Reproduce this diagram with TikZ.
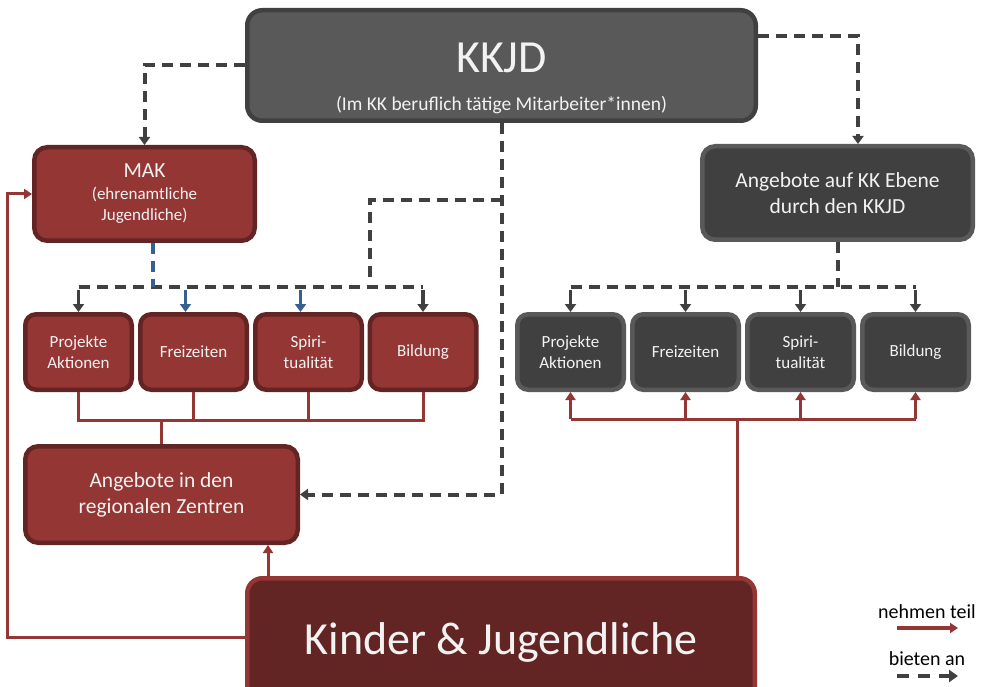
\documentclass[tikz,border=0pt]{standalone}
\usepackage{fontspec}
\setmainfont{Carlito}
\usetikzlibrary{arrows.meta}
\definecolor{gA}{HTML}{595959}
\definecolor{gB}{HTML}{404040}
\definecolor{rA}{HTML}{943634}
\definecolor{rB}{HTML}{632523}
\definecolor{bl}{HTML}{376092}
\definecolor{txt}{HTML}{F2F2F2}
\begin{document}
\begin{tikzpicture}[x=1pt,y=-1pt,
  box/.style={rectangle, rounded corners=13pt, line width=4.5pt, text=txt, align=center, inner sep=0pt},
  redbox/.style={box, fill=rA, draw=rB},
  darkbox/.style={box, fill=gB, draw=gA},
  smallbox/.style={minimum width=106.5pt, minimum height=75.5pt, font=\fontsize{17}{21}\selectfont, rounded corners=11pt},
  dsh/.style={draw=gB, line width=4pt, dash pattern=on 11pt off 7pt},
  dsharrow/.style={dsh, -{Triangle[width=11pt,length=8pt]}},
  garrow/.style={draw=gB, line width=3.5pt, -{Triangle[width=11pt,length=8pt]}},
  bdsh/.style={draw=bl, line width=4pt, dash pattern=on 11pt off 7pt},
  barrow/.style={draw=bl, line width=3.5pt, -{Triangle[width=11pt,length=8pt]}},
  redline/.style={draw=rA, line width=3pt},
  redarrow/.style={redline, -{Triangle[width=10pt,length=8pt]}},
  lbl/.style={font=\fontsize{20}{24}\selectfont, text=black, inner sep=0pt, anchor=base}
]
\useasboundingbox (0,0) rectangle (983,687);

% main boxes
\node[box, fill=gA, draw=gB, rounded corners=15pt, minimum width=508.5pt, minimum height=110.5pt] (kkjd) at (501.5,65.5) {};
\node[anchor=base, text=txt, inner sep=0pt, font=\fontsize{46}{46}\selectfont] (kkjdT) at (501.5,73) {KKJD};
\node[anchor=base, text=txt, inner sep=0pt, font=\fontsize{19.5}{24}\selectfont] (kkjdS) at (501.5,111) {(Im KK beruflich tätige Mitarbeiter*innen)};

\node[redbox, minimum width=220.5pt, minimum height=93.5pt, font=\fontsize{17}{21.5}\selectfont] (mak) at (144.5,194)
  {{\fontsize{21.5}{21.5}\selectfont MAK}\\(ehrenamtliche\\Jugendliche)};

\node[darkbox, minimum width=270.5pt, minimum height=93.5pt, font=\fontsize{21.5}{26}\selectfont] (akk) at (837.5,193)
  {Angebote auf KK Ebene\\durch den KKJD};

\node[redbox, minimum width=272.5pt, minimum height=96.5pt, font=\fontsize{21.5}{26}\selectfont] (reg) at (161.5,494.5)
  {Angebote in den\\regionalen Zentren};

\node[box, fill=rB, draw=rA, rounded corners=15pt, minimum width=507.5pt, minimum height=127.5pt, font=\fontsize{46}{46}\selectfont] (kin) at (501,642)
  {Kinder \& Jugendliche};

% left row
\node[redbox, smallbox] (lP) at (78.5,352) {Projekte\\Aktionen};
\node[redbox, smallbox] (lF) at (193.5,352) {Freizeiten};
\node[redbox, smallbox] (lS) at (308.5,352) {Spiri-\\tualität};
\node[redbox, smallbox] (lB) at (423,352) {Bildung};

% right row
\node[darkbox, smallbox] (rP) at (570.5,352) {Projekte\\Aktionen};
\node[darkbox, smallbox] (rF) at (685.5,352) {Freizeiten};
\node[darkbox, smallbox] (rS) at (800.5,352) {Spiri-\\tualität};
\node[darkbox, smallbox] (rB) at (915.5,352) {Bildung};

% dashed "bieten an" connectors
\coordinate (j1) at (501.5,200);
\coordinate (j2) at (370,287);
\draw[dsharrow] (kkjd.west) -| (mak.north);
\draw[dsharrow] ([yshift=29pt]kkjd.east) -| ([xshift=20.5pt]akk.north);
\draw[dsharrow] (kkjd.south) |- (reg.east);
\draw[dsh] (j1) -| (j2);
\draw[dsh] (lP.north |- j2) -- (lB.north |- j2);
\draw[garrow] ([yshift=-3pt]lP.north |- j2) -- (lP.north);
\draw[garrow] ([yshift=-3pt]lB.north |- j2) -- (lB.north);
\draw[bdsh] ([xshift=8.5pt]mak.south) -- ([xshift=8.5pt]mak.south |- j2);
\draw[barrow] ([xshift=-8pt,yshift=-3pt]lF.north |- j2) -- ([xshift=-8pt]lF.north);
\draw[barrow] ([xshift=-8pt,yshift=-3pt]lS.north |- j2) -- ([xshift=-8pt]lS.north);

\draw[dsh] (akk.south) -- (akk.south |- j2);
\draw[dsh] (rP.north |- j2) -- (rB.north |- j2);
\foreach \n in {rP,rF,rS,rB}{
  \draw[garrow] ([yshift=-3pt]\n.north |- j2) -- (\n.north);
}

% red "nehmen teil" connectors
\coordinate (lr) at (0,420);
\coordinate (rr) at (0,419);
\draw[redline] (lP.south) -- (lP.south |- lr) -- (lB.south |- lr) -- (lB.south);
\draw[redline] (lF.south) -- (lF.south |- lr);
\draw[redline] (lS.south) -- (lS.south |- lr);
\draw[redline] (reg.north) -- (reg.north |- lr);

\draw[redline] ([xshift=236pt]kin.north) -- ([xshift=236pt]kin.north |- rr);
\draw[redline] (rP.south |- rr) -- (rB.south |- rr);
\foreach \n in {rP,rF,rS,rB}{
  \draw[redarrow] (\n.south |- rr) -- (\n.south);
}
\draw[redarrow] ([xshift=23pt]kin.north west) -- ([xshift=23pt]kin.north west |- reg.south);
\coordinate (lx) at (7,400);
\draw[redarrow] ([yshift=5pt]kin.west) -| (lx) |- (mak.west);

% legend
\node[lbl] (leg1) at (927,618) {nehmen teil};
\coordinate (l1a) at (897,628);
\coordinate (l1b) at (958,628);
\draw[redarrow, line width=4pt] (l1a) -- (l1b);
\node[lbl] (leg2) at (927,665) {bieten an};
\coordinate (l2a) at (897,676);
\coordinate (l2b) at (958,676);
\draw[draw=gB, line width=4pt, dash pattern=on 12pt off 9pt, -{Triangle[width=12pt,length=9pt]}] (l2a) -- (l2b);
\end{tikzpicture}
\end{document}
